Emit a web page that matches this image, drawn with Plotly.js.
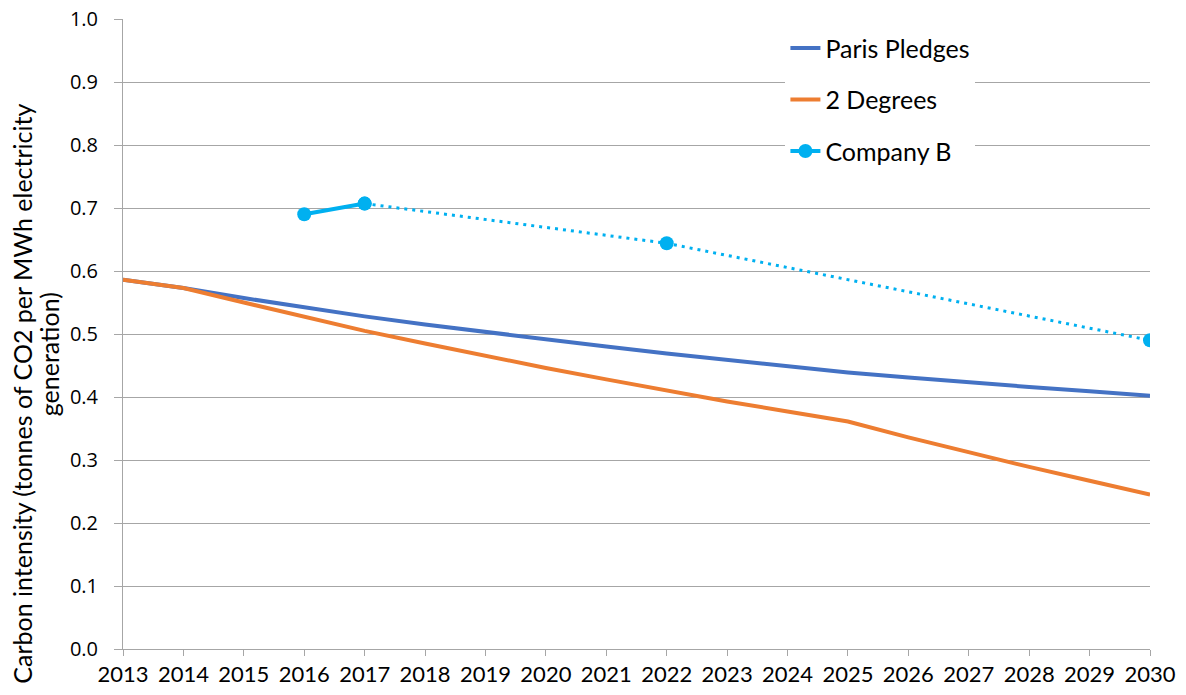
<!DOCTYPE html>
<html>
<head>
<meta charset="utf-8">
<script src="https://cdn.plot.ly/plotly-3.0.1.min.js"></script>
<style>html,body{margin:0;padding:0;background:#fff;}#chart{width:1186px;height:695px;}</style>
</head>
<body>
<div id="chart"></div>
<script>
const years = [2013,2014,2015,2016,2017,2018,2019,2020,2021,2022,2023,2024,2025,2026,2027,2028,2029,2030];
const parisPledges = [0.586,0.573,0.557,0.542,0.528,0.515,0.503,0.491,0.480,0.469,0.459,0.449,0.439,0.431,0.423,0.416,0.409,0.402];
const twoDegrees = [0.586,0.573,0.550,0.527,0.505,0.485,0.465,0.446,0.428,0.410,0.393,0.377,0.361,0.336,0.312,0.289,0.267,0.245];
const companyYears = [2016,2017,2022,2030];
const companyValues = [0.690,0.707,0.644,0.490];
const companyActualCount = 2; // 2016-2017 reported (solid), rest targets (dotted)
const yTickLabels = ['0.0','0.1','0.2','0.3','0.4','0.5','0.6','0.7','0.8','0.9','1.0'];
const yTitleLines = ['Carbon intensity (tonnes of CO2 per MWh electricity', 'generation)'];

const FONT = 'Lato, "Open Sans", sans-serif';
const traces = [
  {x: years, y: parisPledges, name: 'Paris Pledges', mode: 'lines', legendgroup: 'a',
   line: {color: '#4472C4', width: 4}},
  {x: years, y: twoDegrees, name: '2 Degrees', mode: 'lines', legendgroup: 'b',
   line: {color: '#ED7D31', width: 4}},
  {x: companyYears.slice(companyActualCount-1), y: companyValues.slice(companyActualCount-1),
   name: 'Company B', mode: 'lines+markers', showlegend: false, legendgroup: 'c',
   line: {color: '#00B0F0', width: 3, dash: '3px,5px'},
   marker: {color: '#00B0F0', size: 14}},
  {x: companyYears.slice(0, companyActualCount), y: companyValues.slice(0, companyActualCount),
   name: 'Company B', mode: 'lines+markers', legendgroup: 'c',
   line: {color: '#00B0F0', width: 4},
   marker: {color: '#00B0F0', size: 14}}
];

const layout = {
  width: 1186, height: 695,
  margin: {l: 123, r: 36, t: 19, b: 46},
  paper_bgcolor: '#fff', plot_bgcolor: '#fff',
  font: {family: FONT, color: '#000', size: 22},
  showlegend: true,
  legend: {x: 0.645, y: 0.99, xanchor: 'left', yanchor: 'top', bgcolor: '#fff',
           font: {family: FONT, size: 25, color: '#000'}, traceorder: 'grouped', tracegroupgap: 16},
  xaxis: {range: [2013, 2030], tickmode: 'array', tickvals: years, ticktext: years.map(String),
          showgrid: false, zeroline: false, showline: true, linecolor: '#a6a6a6', linewidth: 1,
          ticks: 'outside', ticklen: 6, tickcolor: '#a6a6a6',
          tickfont: {family: FONT, size: 22, color: '#000'}, fixedrange: true},
  yaxis: {range: [0, 1], tickmode: 'array', tickvals: yTickLabels.map(Number), ticktext: yTickLabels,
          showgrid: true, gridcolor: '#a6a6a6', gridwidth: 1, zeroline: false,
          showline: true, linecolor: '#a6a6a6', linewidth: 1,
          ticks: 'outside', ticklen: 8, tickcolor: '#a6a6a6', ticklabelstandoff: 12,
          tickfont: {family: '"Open Sans", sans-serif', size: 20, color: '#000'}, fixedrange: true},
  annotations: [
    {text: yTitleLines[0], textangle: -90, xref: 'paper', yref: 'paper', x: -0.0985, y: 0.405,
     xanchor: 'center', yanchor: 'middle', showarrow: false,
     font: {family: FONT, size: 25, color: '#000'}},
    {text: yTitleLines[1], textangle: -90, xref: 'paper', yref: 'paper', x: -0.072, y: 0.468,
     xanchor: 'center', yanchor: 'middle', showarrow: false,
     font: {family: FONT, size: 25, color: '#000'}}
  ]
};
Plotly.newPlot('chart', traces, layout, {displayModeBar: false, staticPlot: true});
</script>
</body>
</html>
